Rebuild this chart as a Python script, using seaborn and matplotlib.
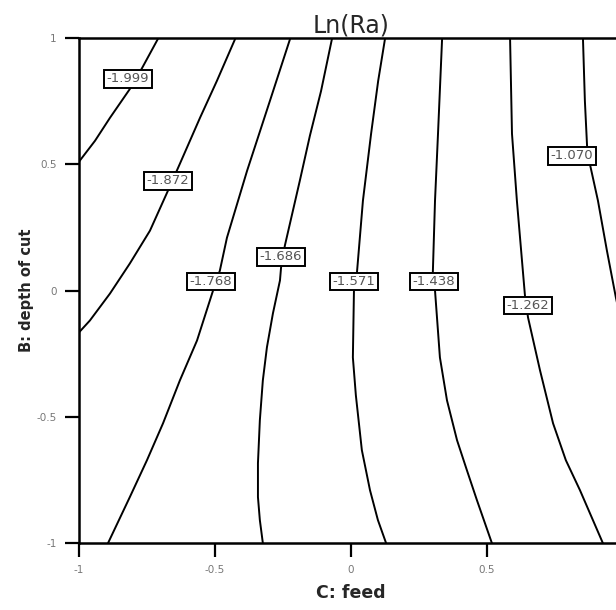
import matplotlib.pyplot as plt
import matplotlib.ticker as mticker
import pandas as pd
import seaborn as sns

sns.set_style("ticks")
plt.rcParams["font.family"] = ["DejaVu Sans"]
plt.rcParams["axes.unicode_minus"] = False

# contour levels of Ln(Ra) as (feed, depth) points
levels = [-1.999, -1.872, -1.768, -1.686, -1.571, -1.438, -1.262, -1.070]

feed_pts = [
    [-0.710, -0.768, -0.813, -0.886, -0.941, -1.000],
    [-0.426, -0.493, -0.555, -0.629, -0.673, -0.739, -0.813, -0.886, -0.960, -1.000],
    [-0.224, -0.298, -0.382, -0.456, -0.482, -0.507, -0.566, -0.629, -0.691,
     -0.750, -0.813, -0.893],
    [-0.070, -0.110, -0.151, -0.188, -0.243, -0.257, -0.261, -0.287, -0.309,
     -0.324, -0.335, -0.342, -0.342, -0.335, -0.324],
    [0.125, 0.100, 0.074, 0.044, 0.022, 0.011, 0.007, 0.018, 0.040, 0.070, 0.099, 0.129],
    [0.335, 0.320, 0.309, 0.301, 0.309, 0.327, 0.353, 0.390, 0.426, 0.463, 0.518],
    [0.585, 0.592, 0.610, 0.640, 0.651, 0.695, 0.743, 0.790, 0.842, 0.926],
    [0.853, 0.860, 0.868, 0.879, 0.908, 0.941, 0.974, 1.000],
]
depth_pts = [
    [0.996, 0.881, 0.798, 0.684, 0.593, 0.510],
    [0.996, 0.830, 0.684, 0.502, 0.395, 0.237, 0.107, -0.012, -0.119, -0.166],
    [0.996, 0.751, 0.474, 0.209, 0.079, 0.000, -0.198, -0.356, -0.526,
     -0.672, -0.818, -1.000],
    [0.996, 0.790, 0.613, 0.435, 0.178, 0.091, 0.040, -0.091, -0.225,
     -0.356, -0.514, -0.684, -0.818, -0.909, -1.000],
    [0.996, 0.830, 0.621, 0.356, 0.071, 0.000, -0.265, -0.415, -0.632, -0.791, -0.909, -1.000],
    [0.996, 0.621, 0.356, 0.071, 0.000, -0.265, -0.435, -0.593, -0.711, -0.830, -1.000],
    [0.996, 0.621, 0.356, -0.024, -0.107, -0.316, -0.526, -0.672, -0.791, -1.000],
    [0.996, 0.751, 0.573, 0.498, 0.356, 0.158, -0.028, -0.158],
]

# where each level's label box sits (feed, depth)
label_pos = [
    (-0.820, 0.838), (-0.673, 0.435), (-0.515, 0.036), (-0.257, 0.134),
    (0.011, 0.036), (0.305, 0.036), (0.651, -0.059), (0.813, 0.534),
]

xticks = [-1, -0.5, 0, 0.5]
yticks = [-1, -0.5, 0, 0.5, 1]

rows = []
for lev, xs, ys in zip(levels, feed_pts, depth_pts):
    for x, y in zip(xs, ys):
        rows.append({"level": lev, "feed": x, "depth": y})
df = pd.DataFrame(rows)

fig = plt.figure(figsize=(6.16, 6.10), dpi=100)
ax = fig.add_axes([0.1282, 0.1098, 0.8831, 0.8279])

sns.lineplot(data=df, x="feed", y="depth", units="level", estimator=None,
             sort=False, color="black", lw=1.4, ax=ax, legend=False)

for lev, (lx, ly) in zip(levels, label_pos):
    ax.text(lx, ly, f"{lev:.3f}", ha="center", va="center", fontsize=9.5,
            color="#555555",
            bbox=dict(boxstyle="square,pad=0.18", fc="white", ec="black", lw=1.4),
            zorder=5)

ax.set_xlim(-1, 1)
ax.set_ylim(-1, 1)
ax.set_xticks(xticks)
ax.set_yticks(yticks)
fmt = mticker.FuncFormatter(lambda v, p: f"{v:g}")
ax.xaxis.set_major_formatter(fmt)
ax.yaxis.set_major_formatter(fmt)
ax.tick_params(direction="out", length=10, width=1.6, labelsize=7.5,
               labelcolor="#777777", colors="black", pad=6)
for side in ["left", "bottom", "top", "right"]:
    ax.spines[side].set_linewidth(1.8)
    ax.spines[side].set_color("black")

ax.set_xlabel("C: feed", fontsize=12.5, fontweight="bold", labelpad=6)
ax.set_ylabel("B: depth of cut", fontsize=10.5, fontweight="bold", labelpad=2)
ax.set_title("Ln(Ra)", fontsize=17, pad=4)

fig.savefig("out.png", dpi=100, facecolor="white")
